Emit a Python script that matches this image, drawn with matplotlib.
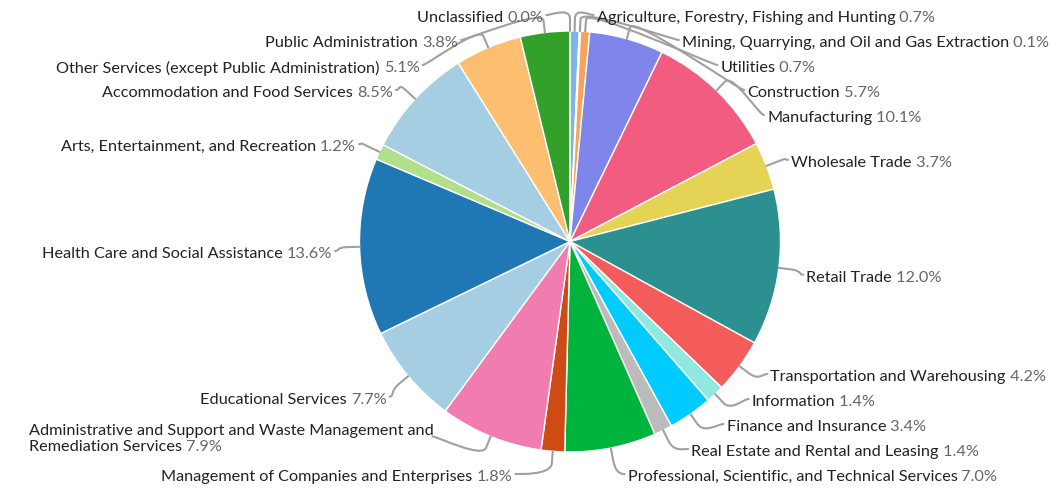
import textwrap
import numpy as np
import matplotlib.pyplot as plt
from matplotlib.path import Path
from matplotlib.patches import PathPatch

plt.rcParams['font.family'] = ['Lato', 'DejaVu Sans']

# industries, clockwise from 12 o'clock
industries = [
    'Agriculture, Forestry, Fishing and Hunting',
    'Mining, Quarrying, and Oil and Gas Extraction',
    'Utilities',
    'Construction',
    'Manufacturing',
    'Wholesale Trade',
    'Retail Trade',
    'Transportation and Warehousing',
    'Information',
    'Finance and Insurance',
    'Real Estate and Rental and Leasing',
    'Professional, Scientific, and Technical Services',
    'Management of Companies and Enterprises',
    'Administrative and Support and Waste Management and Remediation Services',
    'Educational Services',
    'Health Care and Social Assistance',
    'Arts, Entertainment, and Recreation',
    'Accommodation and Food Services',
    'Other Services (except Public Administration)',
    'Public Administration',
    'Unclassified',
]
shares = [0.7, 0.1, 0.7, 5.7, 10.1, 3.7, 12.0, 4.2, 1.4, 3.4, 1.4,
          7.0, 1.8, 7.9, 7.7, 13.6, 1.2, 8.5, 5.1, 3.8, 0.0]
colors = ['#7cb5ec', '#434348', '#f7a35c', '#8085e9', '#f15c80', '#e4d354',
          '#2b908f', '#f45b5b', '#91e8e1', '#00cbfe', '#bbbbbb', '#00b33c',
          '#cf4b16', '#f07cb0', '#a6cee3', '#1f78b4', '#b2df8a', '#a6cee3',
          '#fdbf6f', '#33a02c', '#2ca02c']

W, H = 1058, 489
fig = plt.figure(figsize=(W / 100, H / 100), dpi=100)
ax = fig.add_axes([0, 0, 1, 1])
ax.axis('off')

# pie geometry in pixels (y measured from top)
cx, cy, r = 570, 242.5, 210.5
wedges, _ = ax.pie(shares, colors=colors, center=(cx, H - cy), radius=r,
                   startangle=90, counterclock=False,
                   wedgeprops=dict(edgecolor='white', linewidth=1))
ax.set_xlim(0, W)
ax.set_ylim(0, H)
ax.set_aspect('equal')

# label layout (Highcharts-like)
lab_cy, lab_R = 250, 233
top, bottom = 18, 477
line_h = 25

total = sum(shares)
items = []
cum = 0.0
for name, v in zip(industries, shares):
    t = 2 * np.pi * (cum + v / 2) / total  # clockwise from top
    cum += v
    lines = textwrap.wrap(name, 55)
    items.append(dict(lines=lines, pct=f'{v:.1f}%', t=t,
                      right=t < np.pi - 1e-9,
                      nat=248 - 237 * np.cos(t), h=line_h * len(lines)))

for side in (True, False):
    grp = sorted([it for it in items if it['right'] == side], key=lambda d: d['nat'])
    ys = []
    for i, it in enumerate(grp):
        if i == 0:
            y = max(it['nat'], top)
        else:
            y = max(it['nat'], ys[-1] + (grp[i - 1]['h'] + it['h']) / 2)
        ys.append(y)
    ys[-1] = min(ys[-1], bottom)
    for i in range(len(grp) - 2, -1, -1):
        ys[i] = min(ys[i], ys[i + 1] - (grp[i]['h'] + grp[i + 1]['h']) / 2)
    for it, y in zip(grp, ys):
        it['y'] = y

name_col, pct_col, line_col = '#222222', '#666666', '#a0a0a0'
fs = 11.7

for it in items:
    y = it['y']
    dx = np.sqrt(max(0.0, lab_R ** 2 - (y - lab_cy) ** 2))
    sgn = 1 if it['right'] else -1
    lx = cx + sgn * (dx + 5)

    # connector: edge of slice -> break point -> soft curve to the label
    ca, sa = np.sin(it['t']), np.cos(it['t'])
    touch = np.array([cx + r * ca, H - cy + r * sa])
    brk = np.array([cx + (r + 12) * ca, H - cy + (r + 12) * sa])
    lp = np.array([lx - sgn * 3, H - y + 2])
    verts = [lp, (lp[0] - sgn * 5, lp[1]), 2 * brk - touch, brk, touch]
    codes = [Path.MOVETO, Path.CURVE4, Path.CURVE4, Path.CURVE4, Path.LINETO]
    ax.add_patch(PathPatch(Path(verts, codes), fill=False, edgecolor=line_col,
                           linewidth=1.5, capstyle='round'))

    lines = it['lines']
    if len(lines) == 1:
        if it['right']:
            t1 = ax.text(lx, H - y, lines[0], ha='left', va='center',
                         color=name_col, fontsize=fs)
            ax.annotate(' ' + it['pct'], xy=(1, 0.5), xycoords=t1, ha='left',
                        va='center', color=pct_col, fontsize=fs)
        else:
            t1 = ax.text(lx, H - y, it['pct'], ha='right', va='center',
                         color=pct_col, fontsize=fs)
            ax.annotate(lines[0] + ' ', xy=(0, 0.5), xycoords=t1, ha='right',
                        va='center', color=name_col, fontsize=fs)
    else:
        # wrapped label: left aligned block, first line is the widest
        step = 16
        y0 = y - step * (len(lines) - 1) / 2
        first = ax.text(lx - sgn * 4 if not it['right'] else lx, H - y0, lines[0],
                        ha='left' if it['right'] else 'right', va='center',
                        color=name_col, fontsize=fs)
        prev = first
        for k, ln in enumerate(lines[1:], start=1):
            prev = ax.annotate(ln, xy=(0, 0.5), xycoords=first,
                               xytext=(0, -step * k * 0.72), textcoords='offset points',
                               ha='left', va='center', color=name_col, fontsize=fs)
        ax.annotate(' ' + it['pct'], xy=(1, 0.5), xycoords=prev, ha='left',
                    va='center', color=pct_col, fontsize=fs)

fig.savefig('out.png', dpi=100)
